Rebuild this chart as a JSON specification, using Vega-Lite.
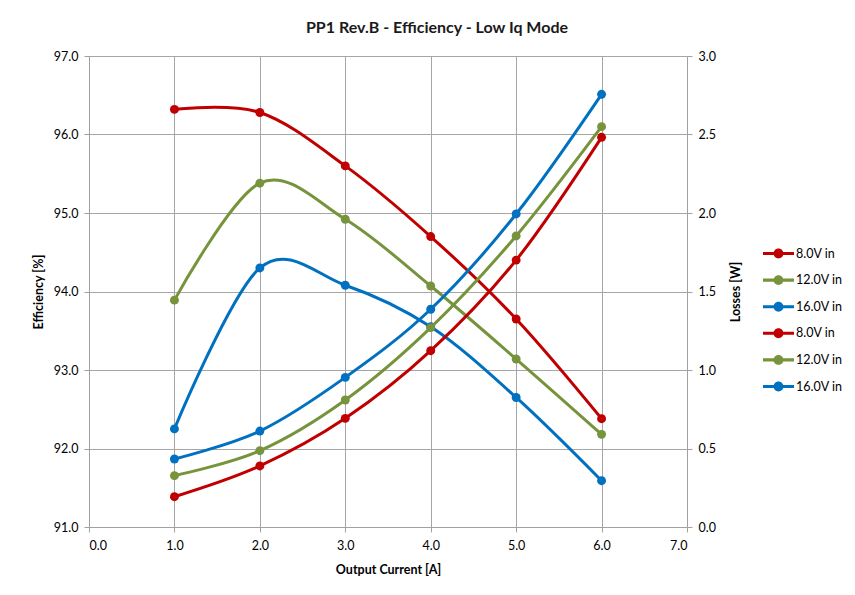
{
  "$schema": "https://vega.github.io/schema/vega-lite/v6.json",
  "width": 598,
  "height": 471,
  "autosize": {"type": "none"},
  "padding": {"left": 89, "top": 56, "right": 168, "bottom": 68},
  "background": "white",
  "config": {
    "font": "Lato",
    "view": {"stroke": null},
    "axis": {
      "labelFont": "Lato", "labelFontSize": 12.5, "labelColor": "#000000",
      "titleFont": "Lato", "titleFontSize": 12.5, "titleFontWeight": "bold", "titleColor": "#000000",
      "domainColor": "#A0A0A0", "tickColor": "#A0A0A0", "gridColor": "#A6A6A6", "gridOpacity": 1,
      "tickSize": 5, "labelPadding": 6
    },
    "legend": {
      "title": null, "orient": "none", "legendX": 674, "legendY": 182,
      "symbolType": "M-1,-0.1L-0.3,-0.1L-0.3,0.1L-1,0.1Z M0.3,-0.1L1,-0.1L1,0.1L0.3,0.1Z M0.32,0A0.32,0.32,0,1,1,-0.32,0A0.32,0.32,0,1,1,0.32,0Z",
      "symbolSize": 961, "symbolStrokeWidth": 0, "symbolOpacity": 1,
      "labelFont": "Lato", "labelFontSize": 12.5, "labelColor": "#000000",
      "labelOffset": 2, "rowPadding": 4.6
    }
  },
  "title": {
    "text": "PP1 Rev.B - Efficiency - Low Iq Mode",
    "font": "Lato", "fontSize": 16, "fontWeight": "bold", "color": "#1a1a1a",
    "anchor": "middle", "dx": 49, "offset": 14
  },
  "data": {
    "values": [
      {"current": 1, "series": "E 8.0V in", "kind": "eff", "value": 96.32},
      {"current": 2, "series": "E 8.0V in", "kind": "eff", "value": 96.28},
      {"current": 3, "series": "E 8.0V in", "kind": "eff", "value": 95.60},
      {"current": 4, "series": "E 8.0V in", "kind": "eff", "value": 94.70},
      {"current": 5, "series": "E 8.0V in", "kind": "eff", "value": 93.65},
      {"current": 6, "series": "E 8.0V in", "kind": "eff", "value": 92.38},
      {"current": 1, "series": "E 12.0V in", "kind": "eff", "value": 93.89},
      {"current": 2, "series": "E 12.0V in", "kind": "eff", "value": 95.38},
      {"current": 3, "series": "E 12.0V in", "kind": "eff", "value": 94.92},
      {"current": 4, "series": "E 12.0V in", "kind": "eff", "value": 94.07},
      {"current": 5, "series": "E 12.0V in", "kind": "eff", "value": 93.14},
      {"current": 6, "series": "E 12.0V in", "kind": "eff", "value": 92.18},
      {"current": 1, "series": "E 16.0V in", "kind": "eff", "value": 92.25},
      {"current": 2, "series": "E 16.0V in", "kind": "eff", "value": 94.30},
      {"current": 3, "series": "E 16.0V in", "kind": "eff", "value": 94.08},
      {"current": 4, "series": "E 16.0V in", "kind": "eff", "value": 93.55},
      {"current": 5, "series": "E 16.0V in", "kind": "eff", "value": 92.65},
      {"current": 6, "series": "E 16.0V in", "kind": "eff", "value": 91.59},
      {"current": 1, "series": "L 8.0V in", "kind": "loss", "value": 0.193},
      {"current": 2, "series": "L 8.0V in", "kind": "loss", "value": 0.389},
      {"current": 3, "series": "L 8.0V in", "kind": "loss", "value": 0.692},
      {"current": 4, "series": "L 8.0V in", "kind": "loss", "value": 1.123},
      {"current": 5, "series": "L 8.0V in", "kind": "loss", "value": 1.70},
      {"current": 6, "series": "L 8.0V in", "kind": "loss", "value": 2.482},
      {"current": 1, "series": "L 12.0V in", "kind": "loss", "value": 0.327},
      {"current": 2, "series": "L 12.0V in", "kind": "loss", "value": 0.486},
      {"current": 3, "series": "L 12.0V in", "kind": "loss", "value": 0.809},
      {"current": 4, "series": "L 12.0V in", "kind": "loss", "value": 1.27},
      {"current": 5, "series": "L 12.0V in", "kind": "loss", "value": 1.854},
      {"current": 6, "series": "L 12.0V in", "kind": "loss", "value": 2.55},
      {"current": 1, "series": "L 16.0V in", "kind": "loss", "value": 0.433},
      {"current": 2, "series": "L 16.0V in", "kind": "loss", "value": 0.611},
      {"current": 3, "series": "L 16.0V in", "kind": "loss", "value": 0.953},
      {"current": 4, "series": "L 16.0V in", "kind": "loss", "value": 1.387},
      {"current": 5, "series": "L 16.0V in", "kind": "loss", "value": 1.994},
      {"current": 6, "series": "L 16.0V in", "kind": "loss", "value": 2.756}
    ]
  },
  "encoding": {
    "x": {
      "field": "current", "type": "quantitative",
      "scale": {"domain": [0, 7], "nice": false, "zero": false},
      "axis": {
        "values": [0, 1, 2, 3, 4, 5, 6, 7], "format": ".1f", "grid": true,
        "title": "Output Current [A]", "titleY": 42, "titleBaseline": "middle", "labelPadding": 7
      }
    },
    "color": {
      "field": "series", "type": "nominal",
      "scale": {
        "domain": ["E 8.0V in", "E 12.0V in", "E 16.0V in", "L 8.0V in", "L 12.0V in", "L 16.0V in"],
        "range": ["#C00000", "#77933C", "#0070C0", "#C00000", "#77933C", "#0070C0"]
      },
      "legend": {"labelExpr": "substring(datum.label, 2)"}
    }
  },
  "layer": [
    {
      "transform": [{"filter": "datum.kind === 'eff'"}],
      "encoding": {
        "y": {
          "field": "value", "type": "quantitative",
          "scale": {"domain": [91, 97], "nice": false, "zero": false},
          "axis": {
            "orient": "left", "values": [91, 92, 93, 94, 95, 96, 97], "format": ".1f", "grid": true,
            "title": "Efficiency [%]", "titleAngle": -90, "titleX": -51, "titleY": 235.5,
            "titleBaseline": "middle", "titleAlign": "center"
          }
        }
      },
      "layer": [
        {"mark": {"type": "line", "interpolate": "cardinal", "strokeWidth": 3}},
        {"mark": {"type": "point", "filled": true, "size": 80, "opacity": 1}}
      ]
    },
    {
      "transform": [{"filter": "datum.kind === 'loss'"}],
      "encoding": {
        "y": {
          "field": "value", "type": "quantitative",
          "scale": {"domain": [0, 3], "nice": false, "zero": false},
          "axis": {
            "orient": "right", "values": [0, 0.5, 1, 1.5, 2, 2.5, 3], "format": ".1f", "grid": false,
            "title": "Losses [W]", "titleAngle": -90, "titleX": 48, "titleY": 235.5,
            "titleBaseline": "middle", "titleAlign": "center"
          }
        }
      },
      "layer": [
        {"mark": {"type": "line", "interpolate": "cardinal", "strokeWidth": 3}},
        {"mark": {"type": "point", "filled": true, "size": 80, "opacity": 1}}
      ]
    }
  ],
  "resolve": {"scale": {"y": "independent"}}
}
